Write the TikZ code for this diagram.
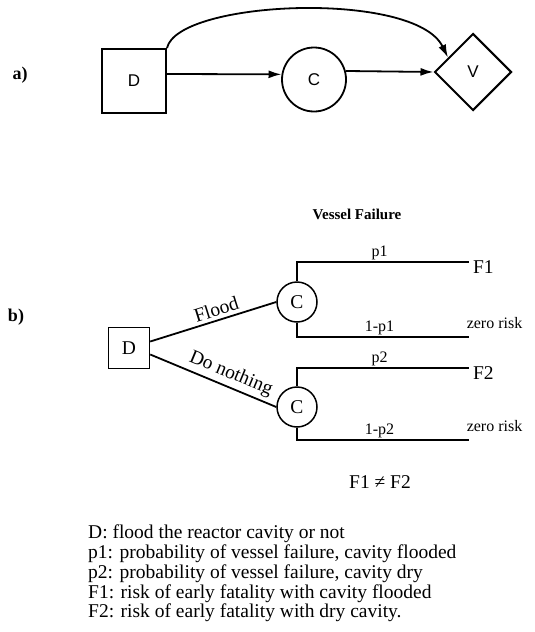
\documentclass[tikz,border=0pt]{standalone}
\usepackage{fontspec}
\setmainfont{Liberation Serif}
\setsansfont{Liberation Sans}
\usetikzlibrary{shapes.geometric,arrows.meta}

\begin{document}
\begin{tikzpicture}[x=1pt,y=-1pt,
  arr/.style={-{Latex[length=13pt,width=8pt]},line width=1.8pt},
  big/.style={font=\fontsize{19.5}{19.7}\selectfont},
  small/.style={font=\fontsize{16}{16}\selectfont},
  prob/.style={small,anchor=base,inner sep=0,yshift=6pt},
  branch/.style={line width=1.5pt}]
  \useasboundingbox (0,0) rectangle (535,632);

  \node [font=\fontsize{18}{18}\selectfont\bfseries] (la) at (20,75) {a)};
  \node [draw,line width=2pt,minimum size=64pt,inner sep=0,font=\sffamily\fontsize{17}{17}\selectfont] (Da) at (134,81) {D};
  \node [draw,circle,line width=1.8pt,minimum size=64pt,inner sep=0,font=\sffamily\fontsize{17}{17}\selectfont] (Ca) at (314,79.5) {C};
  \node [draw,diamond,line width=2pt,minimum width=77pt,minimum height=77pt,inner sep=0,font=\sffamily\fontsize{17}{17}\selectfont] (Va) at (473,72) {V};

  \draw [arr] (Da.12) -- (Ca.171);
  \draw [arr] (Ca.15) -- (Va.west);
  \draw [arr] (Da.north east) .. controls (178,0) and (415,-10) .. (Va.150);

  \node [font=\fontsize{18}{18}\selectfont\bfseries] (lb) at (16,317) {b)};
  \node [font=\fontsize{15}{15}\selectfont\bfseries] (vf) at (357,214) {Vessel Failure};
  \node [draw,line width=1.5pt,minimum size=41pt,inner sep=0,big] (Db) at (129,348) {D};
  \node [draw,circle,line width=1.5pt,minimum size=40pt,inner sep=0,big] (C1) at (297,302) {C};
  \node [draw,circle,line width=1.5pt,minimum size=40pt,inner sep=0,big] (C2) at (297,407) {C};

  \draw [line width=1.8pt] (Db.17) -- node [sloped,above,pos=0.55,big] {Flood} (C1.west);
  \draw [line width=1.8pt] (Db.-17) -- node [sloped,above,pos=0.6,big] {Do nothing} (C2.west);

  \coordinate (e1) at (469,262);
  \coordinate (e2) at (469,337);
  \coordinate (e3) at (469,368);
  \coordinate (e4) at (469,440);

  \draw [branch] (C1.north) |- node [prob,pos=0.74] {p1} (e1) node [right,big,yshift=-5pt] (F1) {F1};
  \draw [branch] (C1.south) |- node [prob,pos=0.74] {1-p1} (e2) node [small,anchor=base west,inner sep=0,xshift=-3pt,yshift=9pt] (z1) {zero risk};
  \draw [branch] (C2.north) |- node [prob,pos=0.74] {p2} (e3) node [right,big,yshift=-5pt] (F2) {F2};
  \draw [branch] (C2.south) |- node [prob,pos=0.74] {1-p2} (e4) node [small,anchor=base west,inner sep=0,xshift=-3pt,yshift=9pt] (z2) {zero risk};

  \node [big] (neq) at (380,482) {F1 ≠ F2};

  \node [big,anchor=north west,align=left,inner sep=0] (legend) at (88,525) {D: flood the reactor cavity or not\\
    p1: probability of vessel failure, cavity flooded\\
    p2: probability of vessel failure, cavity dry\\
    F1: risk of early fatality with cavity flooded\\
    F2: risk of early fatality with dry cavity.};
\end{tikzpicture}
\end{document}
